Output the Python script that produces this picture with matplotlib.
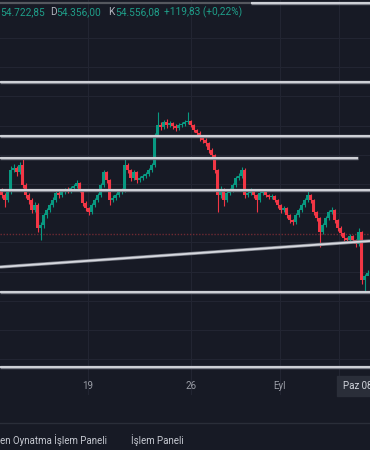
import matplotlib
matplotlib.use("Agg")
import matplotlib.pyplot as plt
from matplotlib.patches import Rectangle
import numpy as np

plt.rcParams['font.family'] = ['Roboto', 'DejaVu Sans']

# ---------------- data ----------------
closes = [60375, 60000, 60600, 62250, 62400, 62100, 62625, 61125, 60375, 60000,
          59250, 59625, 57900, 58125, 58875, 59250, 59625, 60000, 60525, 60375,
          60600, 60750, 60675, 60900, 61050, 61275, 60750, 59775, 59400, 59100,
          59625, 60000, 60375, 61125, 62100, 61500, 60000, 60150, 60375, 60600,
          60750, 62625, 62250, 61650, 62100, 61500, 61650, 61800, 61950, 62250,
          62625, 64875, 65625, 65475, 65850, 65625, 65775, 65550, 65400, 65625,
          65700, 65850, 65925, 65625, 65250, 65025, 64650, 64500, 64275, 63750,
          63375, 62250, 60375, 60750, 60000, 60525, 60750, 61125, 61650, 61800,
          62250, 60375, 60525, 60750, 60375, 60000, 60525, 60600, 60375, 60225,
          60300, 60000, 59625, 59250, 59400, 58875, 58500, 58350, 58875, 59250,
          59625, 60000, 60375, 60000, 59100, 58650, 57600, 58125, 58650, 59100,
          59250, 58500, 57900, 57525, 57150, 57000, 57300, 57000, 56700, 57600,
          54000, 54300, 54556]
opens = [60750] + closes[:-1]
highs = [60900, 60525, 60750, 62550, 62700, 62550, 62850, 63225, 61275, 60525,
         60150, 59850, 59775, 58350, 59025, 59400, 59775, 60225, 60750, 60675,
         60825, 60900, 60975, 61050, 61200, 61500, 61350, 60825, 59925, 59475,
         59775, 60150, 60525, 61275, 62250, 62175, 61575, 60375, 60525, 60750,
         60900, 63150, 62775, 62325, 62250, 62175, 61800, 61950, 62100, 62400,
         62775, 65025, 66600, 65850, 66000, 66075, 65925, 65850, 65700, 65775,
         65850, 66000, 66600, 66000, 65700, 65325, 65175, 64800, 64650, 64350,
         63900, 63450, 62325, 61050, 60900, 60675, 60900, 61275, 61800, 62025,
         62475, 62400, 60675, 60900, 60825, 60450, 60675, 60750, 60675, 60450,
         60450, 60375, 60075, 59700, 59550, 59475, 58950, 58575, 59025, 59400,
         59775, 60150, 60750, 60450, 60075, 59175, 58725, 58275, 58800, 59250,
         59475, 59325, 58575, 58050, 57600, 57225, 57450, 57375, 57075, 57900,
         57675, 54450, 54723]
lows = [60150, 59475, 59850, 60450, 62100, 61800, 61950, 60900, 60150, 59700,
        59025, 59100, 57600, 57000, 57900, 58650, 59100, 59475, 59850, 60150,
        60225, 60450, 60525, 60525, 60750, 60900, 60600, 59550, 59175, 58875,
        58950, 59475, 59850, 60225, 60975, 61275, 59625, 59850, 60000, 60225,
        60450, 60600, 62025, 61425, 61500, 61275, 61350, 61500, 61650, 61800,
        62100, 62475, 64725, 65250, 65325, 65400, 65475, 65325, 65175, 65250,
        65475, 65550, 65700, 65475, 65100, 64800, 64425, 64275, 64050, 63525,
        63150, 62025, 59100, 60150, 59550, 59850, 60375, 60600, 60975, 61500,
        61650, 60150, 60225, 60375, 60150, 59100, 59850, 60375, 60225, 60075,
        60075, 59850, 59400, 59025, 59100, 58650, 58275, 58125, 58200, 58725,
        59100, 59475, 59850, 59775, 58875, 58425, 56475, 57450, 57975, 58500,
        58950, 58275, 57675, 57300, 56925, 56775, 56850, 56775, 56475, 56550,
        53700, 53100, 54356]

h_levels = [68850, 64800, 60750, 53100, 47475]      # full-width drawn lines
short_level = 63150                                  # line ending before right edge
short_level_end = 118.8
top_level = 74775
trend_x = [-0.5, 122.83]
trend_y = [54975, 56925]
prev_close_level = 57450

grid_prices = [72150, 69960, 67770, 65580, 63390, 61200, 59010, 56820,
               54630, 52440, 50250, 48060]
date_labels = ["19", "26", "Eyl"]
date_pos = [28.8, 63.2, 92.8]
cursor_label = "Paz 08"
header_vals = ["54.722,85", "54.356,00", "54.556,08", "+119,83 (+0,22%)"]
header_keys = ["D", "K"]
bottom_tabs = ["en Oynatma İşlem Paneli", "İşlem Paneli"]

# ---------------- style ----------------
BG = "#171a25"
GRID = "#222532"
UP = "#089981"
DN = "#f23645"
LINE = "#d7d9df"

W, H = 370, 450
fig = plt.figure(figsize=(W / 100, H / 100), dpi=100, facecolor=BG)
ax_h = 395
ax = fig.add_axes([0, 1 - ax_h / H, 1, ax_h / H])
ax.set_facecolor(BG)
ax.set_xlim(-0.5, 122.83)
ax.set_ylim(75000 - 75 * ax_h, 75000)
for s in ax.spines.values():
    s.set_visible(False)
ax.set_xticks([])
ax.set_yticks([])

# grid
for gp in grid_prices:
    ax.axhline(gp, color=GRID, lw=0.8, zorder=0)
for xp in date_pos + [112.5]:
    ax.axvline(xp, color=GRID, lw=0.8, zorder=0)

# prev close dotted line
ax.axhline(prev_close_level, color="#6e2a33", lw=1.0, ls=(0, (1, 1.2)), zorder=1)

# candles
x = np.arange(len(closes))
o = np.array(opens); c = np.array(closes)
hi = np.array(highs); lo = np.array(lows)
cols = [UP if cc >= oo else DN for oo, cc in zip(o, c)]
ax.vlines(x, lo, hi, colors=cols, lw=0.8, zorder=2)
bot = np.minimum(o, c)
hgt = np.maximum(np.abs(c - o), 60)
ax.bar(x, hgt, bottom=bot, width=0.72, color=cols, linewidth=0, zorder=3)

# drawn lines
def draw_line(xs, ys):
    ax.plot(xs, ys, color="#7d808a", lw=2.4, solid_capstyle="butt", zorder=4)
    ax.plot(xs, ys, color=LINE, lw=1.3, solid_capstyle="butt", zorder=5)

for lv in h_levels:
    draw_line([-0.5, 122.83], [lv, lv])
draw_line([-0.5, short_level_end], [short_level, short_level])
draw_line(trend_x, trend_y)
ax.plot([-0.5, 83], [top_level, top_level], color="#55585f", lw=1.6, zorder=4)
draw_line([83, 122.83], [top_level, top_level])

# header
hy = 1 - 12 / H
kw = dict(fontsize=7.3, va="center", ha="left")
fig.text(0 / W, hy, header_vals[0], color="#1f9e89", **kw)
fig.text(50 / W, hy, header_keys[0], color="#b2b5be", **kw)
fig.text(56 / W, hy, header_vals[1], color="#1f9e89", **kw)
fig.text(108 / W, hy, header_keys[1], color="#b2b5be", **kw)
fig.text(115 / W, hy, header_vals[2], color="#1f9e89", **kw)
fig.text(164 / W, hy, header_vals[3], color="#1f9e89", **kw)

# time axis labels
ly = 1 - 386 / H
for lab, xp in zip(date_labels, date_pos):
    ax.text(xp, 75000 - 75 * 386, lab, color="#9a9da6", fontsize=7,
            ha="center", va="center")
fig.patches.append(Rectangle((337 / W, 1 - 396 / H), 40 / W, 20 / H,
                             transform=fig.transFigure, color="#2a2e39", zorder=5))
fig.text(343 / W, ly, cursor_label, color="#d1d4dc", fontsize=7, va="center",
         ha="left", zorder=6)

# bottom panel
fig.add_artist(plt.Line2D([0, 1], [1 - 423 / H, 1 - 423 / H], color="#2a2e39",
                          lw=1.0, transform=fig.transFigure))
by = 1 - 440 / H
fig.text(0 / W, by, bottom_tabs[0], color="#c5c8d0", fontsize=7, va="center", ha="left")
fig.text(131 / W, by, bottom_tabs[1], color="#c5c8d0", fontsize=7, va="center", ha="left")

fig.savefig("out.png", dpi=100, facecolor=BG)
